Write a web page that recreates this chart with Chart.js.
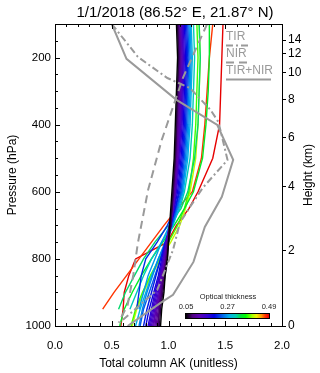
<!DOCTYPE html>
<html>
<head>
<meta charset="utf-8">
<script src="https://cdn.jsdelivr.net/npm/chart.js@4.4.1/dist/chart.umd.min.js"></script>
<style>
  html, body { margin: 0; padding: 0; background: #fff; }
</style>
</head>
<body>
<canvas id="akChart" width="320" height="373"></canvas>
<script>
// pressure levels (hPa) shared by the coloured AK profiles
const LEVELS = [100, 200, 300, 400, 500, 600, 650, 700, 750, 800, 850, 900, 950, 1000];

// optical thickness of each profile
const TAU = [0.05, 0.07, 0.08, 0.09, 0.10, 0.11, 0.12, 0.13, 0.14, 0.15, 0.16, 0.17,
             0.19, 0.21, 0.22, 0.24, 0.26, 0.27, 0.28, 0.31, 0.33, 0.35, 0.38, 0.41, 0.47, 0.49];

// total column AK per profile, one value per level (null = below surface)
const AK = [
  [1.07, 1.08, 1.07, 1.06, 1.05, 1.03, 1.02, 1.01, 1.00, 0.99, 0.97, 0.96, 0.94, 0.93],
  [1.08, 1.09, 1.08, 1.07, 1.06, 1.04, 1.03, 1.02, 1.00, 0.99, 0.97, 0.95, 0.93, 0.92],
  [1.08, 1.09, 1.08, 1.07, 1.06, 1.04, 1.03, 1.01, 1.00, 0.98, 0.96, 0.94, 0.92, 0.91],
  [1.09, 1.10, 1.09, 1.08, 1.06, 1.04, 1.03, 1.01, 0.99, 0.98, 0.96, 0.94, 0.92, 0.90],
  [1.09, 1.10, 1.09, 1.08, 1.07, 1.05, 1.03, 1.02, 1.00, 0.98, 0.95, 0.93, 0.91, 0.89],
  [1.10, 1.11, 1.10, 1.09, 1.07, 1.05, 1.03, 1.02, 0.99, 0.97, 0.95, 0.93, 0.90, 0.88],
  [1.10, 1.11, 1.10, 1.09, 1.08, 1.05, 1.03, 1.01, 0.99, 0.97, 0.94, 0.92, 0.89, 0.87],
  [1.11, 1.12, 1.11, 1.10, 1.08, 1.06, 1.04, 1.02, 0.99, 0.97, 0.94, 0.92, 0.89, 0.86],
  [1.11, 1.12, 1.11, 1.10, 1.08, 1.06, 1.04, 1.01, 0.98, 0.96, 0.93, 0.91, 0.88, 0.85],
  [1.12, 1.13, 1.12, 1.11, 1.09, 1.06, 1.04, 1.01, 0.98, 0.96, 0.93, 0.90, 0.87, 0.84],
  [1.12, 1.13, 1.12, 1.11, 1.09, 1.06, 1.04, 1.01, 0.98, 0.95, 0.92, 0.89, 0.86, 0.83],
  [1.13, 1.14, 1.13, 1.12, 1.10, 1.07, 1.05, 1.02, 0.98, 0.95, 0.92, 0.88, 0.85, 0.82],
  [1.14, 1.15, 1.14, 1.13, 1.11, 1.08, 1.05, 1.02, 0.98, 0.94, 0.91, 0.87, 0.83, 0.80],
  [1.15, 1.16, 1.15, 1.14, 1.12, 1.09, 1.06, 1.02, 0.97, 0.93, 0.89, 0.85, 0.81, 0.78],
  [1.16, 1.17, 1.16, 1.15, 1.13, 1.10, 1.06, 0.99, 0.90, 0.80, 0.76, 0.74, 0.72, null],
  [1.17, 1.18, 1.17, 1.16, 1.14, 1.11, 1.07, 1.03, 0.98, 0.93, 0.88, 0.83, 0.78, 0.75],
  [1.18, 1.19, 1.18, 1.17, 1.15, 1.12, 1.08, 1.03, 0.97, 0.91, 0.86, 0.81, 0.77, 0.74],
  [1.19, 1.20, 1.19, 1.18, 1.16, 1.12, 1.07, 1.01, 0.94, 0.88, 0.82, 0.78, 0.74, null],
  [1.20, 1.21, 1.20, 1.19, 1.17, 1.13, 1.09, 1.04, 0.98, 0.91, 0.85, 0.80, 0.75, 0.71],
  [1.22, 1.23, 1.22, 1.21, 1.19, 1.14, 1.10, 1.03, 0.94, 0.85, 0.78, 0.72, 0.66, null],
  [1.27, 1.28, 1.27, 1.26, 1.23, 1.17, 1.11, 1.00, 0.88, 0.78, 0.70, 0.62, 0.56, null],
  [1.36, 1.36, 1.35, 1.33, 1.30, 1.22, 1.14, 1.05, 0.95, 0.85, 0.76, 0.68, 0.61, 0.57],
  [1.25, 1.26, 1.25, 1.24, 1.22, 1.18, 1.14, 1.08, 1.00, 0.92, 0.84, 0.77, 0.71, 0.67],
  [1.27, 1.28, 1.27, 1.26, 1.24, 1.19, 1.15, 1.10, 1.02, 0.93, 0.85, 0.78, 0.72, 0.68],
  [1.39, 1.36, 1.34, 1.32, 1.29, 1.21, 1.08, 0.96, 0.85, 0.74, 0.63, 0.52, 0.42, null],
  [1.48, 1.47, 1.46, 1.45, 1.39, 1.26, 1.18, 1.07, 0.99, 0.71, 0.65, 0.61, 0.60, 0.58]
];

// grey reference profiles
const TIR_P  = [100, 198, 261, 291, 356, 392, 505, 589, 645, 693, 773, 893, 928, 990];
const TIR_AK = [0.50, 0.73, 0.99, 1.19, 1.37, 1.44, 1.52, 1.30, 1.19, 1.10, 1.04, 0.90, 0.78, 0.57];
const NIR_P  = [100, 258, 446, 595, 753, 848, 937, 990];
const NIR_AK = [1.34, 1.13, 0.94, 0.82, 0.73, 0.69, 0.64, 0.56];
const BOTH_P  = [100, 204, 326, 401, 505, 615, 705, 809, 907, 931, 1000];
const BOTH_AK = [0.50, 0.63, 1.07, 1.43, 1.57, 1.47, 1.32, 1.22, 1.04, 0.93, 0.64];

// axis ticks
const P_TICKS = [200, 400, 600, 800, 1000];
const HEIGHT_KM = [0, 2, 4, 6, 8, 10, 12, 14];
const HEIGHT_P  = [1000, 775, 585, 438, 326, 246, 188, 148];

const TAU_MIN = 0.05, TAU_MAX = 0.49;
const GRAY = '#9a9a9a';
const FONT = '"Liberation Sans", Arial, sans-serif';

// rainbow colour table (fraction, rgb)
const CMAP = [
  [0.00, [0, 0, 0]],
  [0.08, [80, 0, 130]],
  [0.16, [90, 0, 180]],
  [0.26, [50, 0, 210]],
  [0.34, [0, 0, 225]],
  [0.44, [0, 100, 235]],
  [0.52, [0, 175, 235]],
  [0.60, [0, 205, 180]],
  [0.66, [0, 225, 60]],
  [0.72, [0, 255, 0]],
  [0.80, [170, 255, 0]],
  [0.85, [240, 240, 0]],
  [0.91, [255, 150, 0]],
  [0.96, [255, 40, 0]],
  [1.00, [230, 0, 0]]
];

function cmapColor(k) {
  k = Math.min(1, Math.max(0, k));
  for (let i = 1; i < CMAP.length; i++) {
    if (k <= CMAP[i][0]) {
      const [k0, c0] = CMAP[i - 1], [k1, c1] = CMAP[i];
      const f = (k - k0) / (k1 - k0);
      const c = c0.map((v, j) => Math.round(v + (c1[j] - v) * f));
      return 'rgb(' + c.join(',') + ')';
    }
  }
  return 'rgb(230,0,0)';
}
function tauColor(t) {
  return cmapColor((t - TAU_MIN) / (TAU_MAX - TAU_MIN));
}

function toPoints(pres, vals) {
  return vals.map((v, i) => ({ x: v, y: pres[i] }));
}

const datasets = [];
// grey lines first so they are drawn on top
datasets.push({ label: 'TIR', data: toPoints(TIR_P, TIR_AK), borderColor: GRAY, borderWidth: 2, borderDash: [7, 3, 2, 3] });
datasets.push({ label: 'NIR', data: toPoints(NIR_P, NIR_AK), borderColor: GRAY, borderWidth: 2, borderDash: [8, 5] });
datasets.push({ label: 'TIR+NIR', data: toPoints(BOTH_P, BOTH_AK), borderColor: GRAY, borderWidth: 2 });
AK.forEach((row, i) => {
  datasets.push({
    label: 'tau ' + TAU[i],
    data: toPoints(LEVELS, row),
    borderColor: tauColor(TAU[i]),
    borderWidth: 1.4
  });
});

const extras = {
  id: 'extras',
  afterDraw(chart) {
    const { ctx, chartArea: a, scales: { x, y } } = chart;
    ctx.save();

    // frame
    ctx.strokeStyle = '#000';
    ctx.lineWidth = 1;
    ctx.strokeRect(a.left + 0.5, a.top + 0.5, a.right - a.left, a.bottom - a.top);

    // inward ticks
    ctx.beginPath();
    for (let i = 0; i <= 20; i++) {
      const px = Math.round(x.getPixelForValue(i / 10)) + 0.5;
      const len = i % 5 === 0 ? 5 : 3;
      ctx.moveTo(px, a.bottom); ctx.lineTo(px, a.bottom - len);
      ctx.moveTo(px, a.top); ctx.lineTo(px, a.top + len);
    }
    for (let p = 150; p < 1000; p += 50) {
      const py = Math.round(y.getPixelForValue(p)) + 0.5;
      const len = p % 200 === 0 ? 5 : 3;
      ctx.moveTo(a.left, py); ctx.lineTo(a.left + len, py);
    }
    ctx.stroke();

    // title
    ctx.fillStyle = '#000';
    ctx.font = '15px ' + FONT;
    ctx.textAlign = 'center';
    ctx.textBaseline = 'middle';
    ctx.fillText('1/1/2018 (86.52° E, 21.87° N)', 175, 12.5);

    // right axis title
    ctx.save();
    ctx.translate(309, (a.top + a.bottom) / 2);
    ctx.rotate(-Math.PI / 2);
    ctx.font = '12px ' + FONT;
    ctx.fillText('Height (km)', 0, 0);
    ctx.restore();

    // legend
    ctx.fillStyle = GRAY;
    ctx.strokeStyle = GRAY;
    ctx.font = '12px ' + FONT;
    ctx.textAlign = 'left';
    ctx.lineWidth = 2;
    const leg = [['TIR', [7, 3, 2, 3], 248], ['NIR', [8, 5], 248], ['TIR+NIR', [], 271]];
    leg.forEach((l, i) => {
      const ty = 37 + i * 17;
      ctx.fillText(l[0], 226, ty);
      ctx.setLineDash(l[1]);
      ctx.beginPath();
      ctx.moveTo(226, ty + 8.5);
      ctx.lineTo(l[2], ty + 8.5);
      ctx.stroke();
    });
    ctx.setLineDash([]);

    // colour bar
    const bx0 = 186, bx1 = 269, by = 314, bh = 4;
    const grad = ctx.createLinearGradient(bx0, 0, bx1, 0);
    CMAP.forEach(s => grad.addColorStop(s[0], 'rgb(' + s[1].join(',') + ')'));
    ctx.fillStyle = grad;
    ctx.fillRect(bx0, by, bx1 - bx0, bh);
    ctx.strokeStyle = '#000';
    ctx.lineWidth = 1;
    ctx.strokeRect(bx0 - 0.5, by - 0.5, bx1 - bx0 + 1, bh + 1);
    ctx.fillStyle = '#222';
    ctx.font = '7.5px ' + FONT;
    ctx.textAlign = 'center';
    ctx.fillText('Optical thickness', 228, 297);
    ctx.fillText(TAU_MIN.toFixed(2), bx0, 307);
    ctx.fillText(((TAU_MIN + TAU_MAX) / 2).toFixed(2), (bx0 + bx1) / 2, 307);
    ctx.fillText(TAU_MAX.toFixed(2), bx1, 307);

    ctx.restore();
  }
};

const ctx = document.getElementById('akChart').getContext('2d');
const akChart = new Chart(ctx, {
  type: 'line',
  data: { datasets: datasets },
  options: {
    responsive: false,
    animation: false,
    devicePixelRatio: 1,
    layout: { padding: { top: 24, left: 0, right: 0, bottom: 0 } },
    elements: { point: { radius: 0 }, line: { tension: 0 } },
    plugins: { legend: { display: false }, tooltip: { enabled: false } },
    scales: {
      x: {
        type: 'linear',
        position: 'bottom',
        min: 0,
        max: 2,
        afterFit: s => { s.height = 47; },
        ticks: { stepSize: 0.5, padding: 13, color: '#000', font: { family: FONT, size: 11.5 },
                 callback: v => v.toFixed(1) },
        grid: { display: false, drawTicks: false },
        border: { display: true, color: '#000' },
        title: { display: true, text: 'Total column AK (unitless)', color: '#000',
                 font: { family: FONT, size: 12 }, padding: { top: 0, bottom: 2 } }
      },
      y: {
        type: 'linear',
        position: 'left',
        min: 100,
        max: 1000,
        reverse: true,
        afterFit: s => { s.width = 55; },
        afterBuildTicks: s => { s.ticks = P_TICKS.map(v => ({ value: v })); },
        ticks: { padding: 4, color: '#000', font: { family: FONT, size: 11.5 },
                 callback: v => String(v) },
        grid: { display: false, drawTicks: false },
        border: { display: true, color: '#000' },
        title: { display: true, text: 'Pressure (hPa)', color: '#000',
                 font: { family: FONT, size: 12 }, padding: { top: 5, bottom: 0 } }
      },
      yh: {
        type: 'linear',
        position: 'right',
        min: 100,
        max: 1000,
        reverse: true,
        afterFit: s => { s.width = 38; },
        afterBuildTicks: s => { s.ticks = HEIGHT_P.map(v => ({ value: v })); },
        ticks: { padding: 2, color: '#000', font: { family: FONT, size: 12 },
                 callback: (v, i) => String(HEIGHT_KM[i]) },
        grid: { display: true, drawOnChartArea: false, drawTicks: true, tickLength: 4, color: '#000' },
        border: { display: true, color: '#000' }
      }
    }
  },
  plugins: [extras]
});
</script>
</body>
</html>
